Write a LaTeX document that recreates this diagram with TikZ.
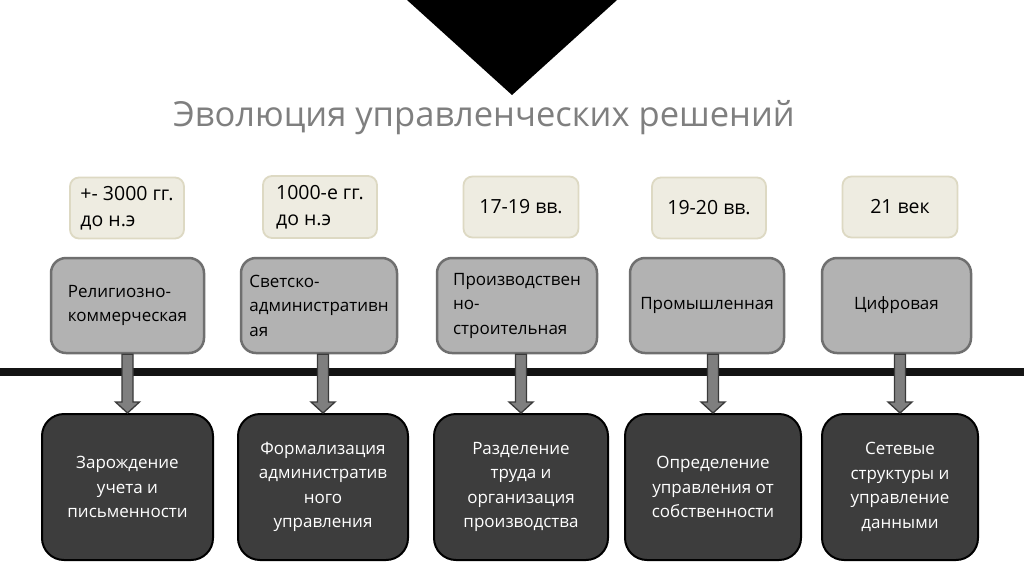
\documentclass[tikz,border=0pt]{standalone}
\usepackage{fontspec}
\setmainfont{Open Sans}
\usetikzlibrary{calc}
\definecolor{titre}{HTML}{7F7F7F}
\definecolor{datefill}{HTML}{EEECE1}
\definecolor{dateborder}{HTML}{DDD9C3}
\definecolor{erefill}{HTML}{B2B2B2}
\definecolor{ereborder}{HTML}{6F6F6F}
\definecolor{apportfill}{HTML}{3D3D3D}
\definecolor{flechefill}{HTML}{7F7F7F}
\definecolor{flecheborder}{HTML}{3A3A3A}
\begin{document}
\begin{tikzpicture}[
    x=1pt, y=-1pt,
    every node/.style={font=\fontsize{17}{24.5}\selectfont, inner sep=0pt},
    % Réglages des boîtes
    datebox/.style={draw=dateborder, fill=datefill, line width=1.8pt, rounded corners=9pt,
        minimum width=114pt, minimum height=61pt, align=left,
        font=\fontsize{19.5}{26.5}\selectfont},
    ere/.style={draw=ereborder, fill=erefill, line width=2.5pt, rounded corners=15pt,
        minimum height=95pt, align=left},
    apport/.style={draw=black, fill=apportfill, line width=2pt, rounded corners=22pt,
        minimum height=146pt, align=center, text=white},
    fleche/.style={draw=flecheborder, fill=flechefill, line width=1.3pt},
    barre/.style={draw=black!92, line width=8pt}
]
\fill[white] (0,0) rectangle (1024,574);
\useasboundingbox (0,0) rectangle (1024,574);
% Triangle et titre
\fill[black] (407,0) -- (617,0) -- (512,95) -- cycle;
\node[font=\fontsize{34.5}{40}\selectfont, text=titre, anchor=base] (titre) at (484,126)
    {Эволюция управленческих решений};
% Dates
\node[datebox] (date1) at (127,208) {+- 3000 гг.\\до н.э};
\node[datebox, minimum height=62pt] (date2) at (320,207) {1000-е гг.\\до н.э};
\node[datebox, minimum width=115pt] (date3) at (521,207) {17-19 вв.};
\node[datebox] (date4) at (709,208) {19-20 вв.};
\node[datebox, minimum width=115pt] (date5) at (900,207) {21 век};
% Ères
\node[ere, minimum width=153pt] (ere1) at (127.5,305.5) {Религиозно-\\коммерческая};
\node[ere, minimum width=156pt] (ere2) at (319,305.5) {Светско-\\административн\\ая};
\node[ere, minimum width=160pt] (ere3) at (517,305.5) {Производствен\\но-\\строительная};
\node[ere, minimum width=154pt] (ere4) at (707,305.5) {Промышленная};
\node[ere, minimum width=149pt] (ere5) at (896.5,305.5) {Цифровая};
% Apports
\node[apport, minimum width=171pt] (apport1) at (127.5,487) {Зарождение\\учета и\\письменности};
\node[apport, minimum width=170pt] (apport2) at (323,487) {Формализация\\административ\\ного\\управления};
\node[apport, minimum width=174pt] (apport3) at (521,487) {Разделение\\труда и\\организация\\производства};
\node[apport, minimum width=176pt] (apport4) at (713,487) {Определение\\управления от\\собственности};
\node[apport, minimum width=156pt] (apport5) at (900,487) {Сетевые\\структуры и\\управление\\данными};
% Axe du temps
\coordinate (gauche) at (0,372);
\coordinate (droite) at (1024,372);
\draw[barre] (gauche) -- (droite);
% Flèches
\foreach \i in {1,...,5}{
    \draw[fleche] ($(ere\i.south -| apport\i.north)+(-5.5,0)$)
        -- ($(apport\i.north)+(-5.5,-11)$) -- ++(-6.5,0) -- (apport\i.north)
        -- ++(12,-11) -- ++(-6.5,0)
        -- ($(ere\i.south -| apport\i.north)+(5.5,0)$) -- cycle;
}
\end{tikzpicture}
\end{document}
